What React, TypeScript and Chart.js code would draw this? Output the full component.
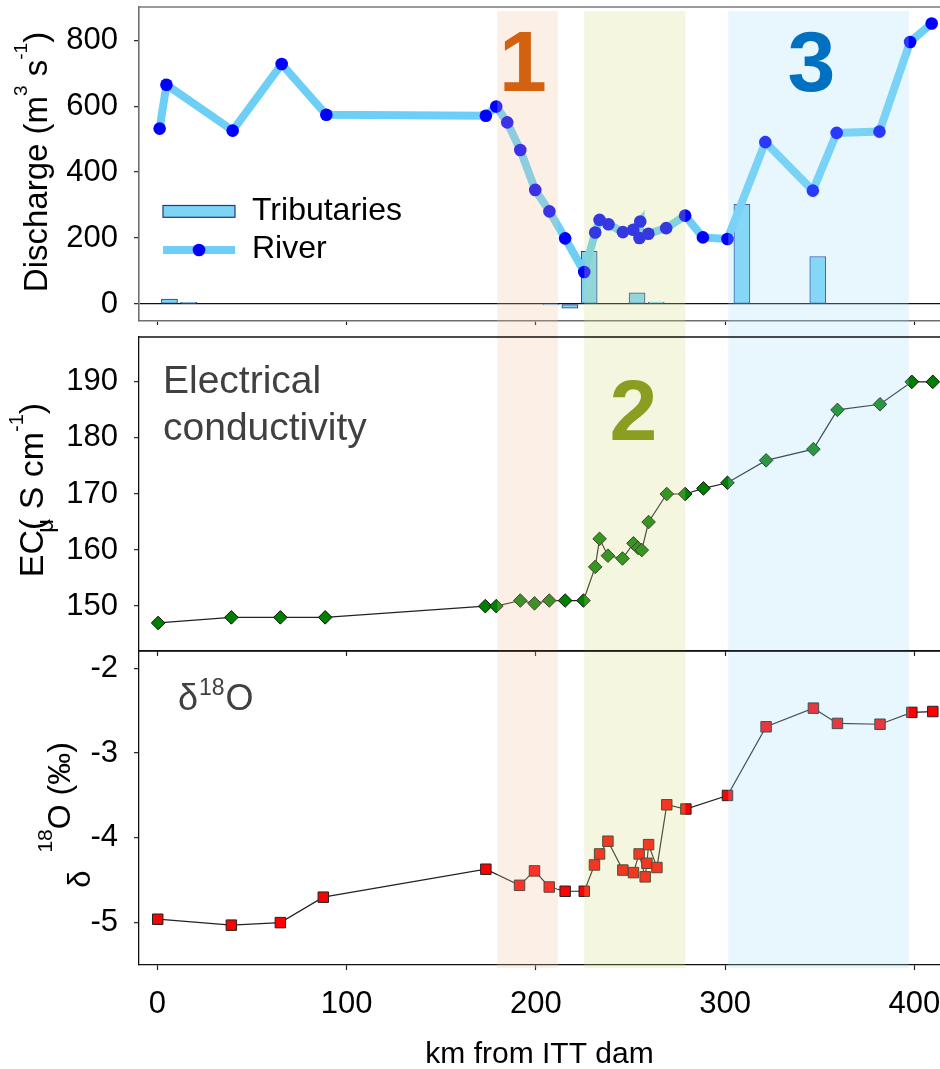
import React, { useEffect, useRef } from "react";
import { Chart, registerables } from "chart.js";

Chart.register(...registerables);

const W = 940;
const H = 1069;
const FONT = '"Liberation Sans", Arial, Helvetica, sans-serif';

// ---- River discharge (m3 s-1) along the river, km from ITT dam ----
const riverKm = [1.2, 4.8, 39.8, 65.7, 89.3, 173.6, 179.1, 184.9, 191.8, 199.7, 207.2, 215.5, 225.6, 231.4, 233.7, 238.4, 246.0, 251.5, 255.2, 254.8, 259.5, 268.9, 278.9, 288.3, 301.3, 321.3, 346.4, 359.0, 381.6, 397.8, 409.2];
const riverQ = [532, 665, 526, 728, 574, 571, 599, 551, 467, 346, 281, 199, 97, 217, 255, 242, 218, 225, 250, 200, 213, 230, 268, 202, 197, 491, 344, 519, 523, 795, 851];

// ---- Tributary inflows (m3 s-1) ----
const tribKm = [6.4, 16.5, 208.0, 218.0, 228.2, 253.5, 263.6, 308.9, 349.0];
const tribQ = [15, 5, -3, -13, 160, 34, 6, 302, 144];

// ---- Electrical conductivity (µS cm-1) ----
const ecKm = [0.4, 39.1, 65.0, 88.7, 173.3, 179.1, 191.8, 199.3, 207.1, 215.5, 225.2, 231.4, 233.7, 238.1, 245.8, 251.6, 254.0, 256.0, 259.6, 269.2, 278.9, 288.6, 301.3, 321.7, 346.7, 359.4, 381.9, 398.7, 409.8];
const ecVal = [147.0, 148.0, 148.0, 148.0, 150.0, 150.0, 151.0, 150.5, 151.0, 151.0, 151.0, 157.0, 162.0, 159.0, 158.5, 161.2, 160.4, 160.0, 165.0, 170.0, 170.0, 171.0, 172.0, 176.0, 178.0, 185.0, 186.0, 190.0, 190.0];

// ---- d18O (per mil) ----
const d18Km = [0.2, 39.1, 65.0, 87.7, 173.6, 191.4, 199.3, 207.1, 215.5, 225.6, 231.0, 233.7, 238.1, 246.0, 251.6, 254.6, 257.8, 258.7, 259.6, 264.0, 269.2, 279.3, 301.3, 321.7, 346.7, 359.4, 381.9, 398.7, 409.8];
const d18Val = [-4.96, -5.03, -5.0, -4.7, -4.37, -4.56, -4.39, -4.58, -4.63, -4.63, -4.32, -4.19, -4.04, -4.38, -4.41, -4.19, -4.46, -4.3, -4.08, -4.35, -3.61, -3.66, -3.5, -2.69, -2.47, -2.65, -2.66, -2.52, -2.51];

// ---- ticks ----
const kmTicks = [0, 100, 200, 300, 400];
const qTicks = [0, 200, 400, 600, 800];
const ecTicks = [150, 160, 170, 180, 190];
const d18Ticks = [-5, -4, -3, -2];

// ---- river reaches 1-3 ----
const zoneNames = ["1", "2", "3"];
const zoneStartKm = [179.6, 225.6, 301.7];
const zoneEndKm = [211.7, 279.0, 397.1];
const zoneLabelKm = [193.2, 251.6, 345.7];

// axis ranges
const KM_MIN = -9.7;
const KM_MAX = 413.6;
const Q_MIN = -51.7;
const Q_MAX = 901;
const EC_MIN = 142;
const EC_MAX = 198;
const D_MIN = -5.5;
const D_MAX = -1.796;

// styling
const RIVER_LINE = "#6DCFF6";
const RIVER_DOT = "#0000FF";
const TRIB_FILL = "#7DD5F6";
const TRIB_EDGE = "#25348C";
const ZONE_FILL = ["rgba(244,196,156,0.25)", "rgba(212,220,132,0.25)", "rgba(164,224,252,0.25)"];
const ZONE_TEXT = ["#D2620F", "#8C9E22", "#0071C1"];
const PLOT_LEFT = 139;
const TICK_FONT = { family: FONT, size: 31 };

type Run = { text: string; size: number; dy?: number; gap?: number };

function drawVerticalLabel(ctx: CanvasRenderingContext2D, runs: Run[], baseX: number, centerY: number) {
  ctx.save();
  ctx.fillStyle = "#000";
  ctx.textBaseline = "alphabetic";
  ctx.textAlign = "left";
  const widths = runs.map((r) => {
    ctx.font = `${r.size}px ${FONT}`;
    return ctx.measureText(r.text).width;
  });
  const total = runs.reduce((s, r, i) => s + widths[i] + (r.gap || 0), 0);
  ctx.translate(baseX, centerY);
  ctx.rotate(-Math.PI / 2);
  let pos = -total / 2;
  runs.forEach((r, i) => {
    pos += r.gap || 0;
    ctx.font = `${r.size}px ${FONT}`;
    ctx.fillText(r.text, pos, r.dy || 0);
    pos += widths[i];
  });
  ctx.restore();
}

function xAxis(height: number, tickLength: number, color: string, width: number, withLabels: boolean) {
  return {
    type: "linear",
    position: "bottom",
    min: KM_MIN,
    max: KM_MAX,
    offset: false,
    afterBuildTicks: (s: any) => {
      s.ticks = kmTicks.map((v) => ({ value: v }));
    },
    afterFit: (s: any) => {
      s.height = height;
      s.paddingLeft = 0;
      s.paddingRight = 0;
    },
    grid: { offset: false, drawOnChartArea: false, drawTicks: true, tickLength, tickColor: "#222", tickWidth: 1.2 },
    border: { display: true, color, width },
    ticks: { display: withLabels, font: TICK_FONT, color: "#000", padding: 16, maxRotation: 0, autoSkip: false },
    title: withLabels
      ? { display: true, text: "km from ITT dam", color: "#000", font: { family: FONT, size: 30, lineHeight: 0.9 }, padding: { top: 0, bottom: 1 } }
      : { display: false },
  };
}

function yAxis(min: number, max: number, ticks: number[], color: string, width: number, zeroLine: boolean) {
  return {
    type: "linear",
    position: "left",
    min,
    max,
    afterBuildTicks: (s: any) => {
      s.ticks = ticks.map((v) => ({ value: v }));
    },
    afterFit: (s: any) => {
      s.width = PLOT_LEFT;
      s.paddingTop = 0;
      s.paddingBottom = 0;
    },
    grid: {
      drawOnChartArea: zeroLine,
      color: (c: any) => (c.tick && c.tick.value === 0 ? "#111" : "rgba(0,0,0,0)"),
      lineWidth: 1.3,
      drawTicks: true,
      tickLength: 5,
      tickColor: "#222",
      tickWidth: 1.2,
    },
    border: { display: true, color, width },
    ticks: { font: TICK_FONT, color: "#000", padding: 16 },
  };
}

function zonesPlugin(yFrom: number, yTo: number, labels: { idx: number; value: number }[]) {
  return {
    id: "zones",
    afterDatasetsDraw(chart: any) {
      const { ctx } = chart;
      const x = chart.scales.x;
      const y = chart.scales.y;
      ctx.save();
      for (let i = 0; i < zoneNames.length; i++) {
        const x0 = x.getPixelForValue(zoneStartKm[i]);
        const x1 = x.getPixelForValue(zoneEndKm[i]);
        ctx.fillStyle = ZONE_FILL[i];
        ctx.fillRect(x0, yFrom, x1 - x0, yTo - yFrom);
      }
      ctx.font = `bold 86px ${FONT}`;
      ctx.textAlign = "center";
      ctx.textBaseline = "alphabetic";
      for (const l of labels) {
        ctx.fillStyle = ZONE_TEXT[l.idx];
        ctx.fillText(zoneNames[l.idx], x.getPixelForValue(zoneLabelKm[l.idx]), y.getPixelForValue(l.value));
      }
      ctx.restore();
    },
  };
}

function topLinePlugin(color: string, width: number) {
  return {
    id: "topLine",
    afterDraw(chart: any) {
      const { ctx, chartArea } = chart;
      ctx.save();
      ctx.strokeStyle = color;
      ctx.lineWidth = width;
      ctx.beginPath();
      ctx.moveTo(chartArea.left - width / 2, chartArea.top);
      ctx.lineTo(chartArea.right, chartArea.top);
      ctx.stroke();
      ctx.restore();
    },
  };
}

const baseOptions = {
  responsive: false,
  animation: false,
  devicePixelRatio: 1,
  events: [],
  plugins: { legend: { display: false }, tooltip: { enabled: false } },
};

function layout(top: number, bottom: number) {
  return { autoPadding: false, padding: { top, left: 0, right: 0, bottom } };
}

function dischargeConfig(): any {
  return {
    type: "line",
    data: {
      datasets: [
        {
          type: "line",
          label: "River",
          data: riverKm.map((k, i) => ({ x: k, y: riverQ[i] })),
          borderColor: RIVER_LINE,
          borderWidth: 8,
          pointStyle: "circle",
          pointRadius: 6.3,
          pointBackgroundColor: RIVER_DOT,
          pointBorderWidth: 0,
          tension: 0,
          order: 0,
        },
        {
          type: "bar",
          label: "Tributaries",
          data: tribKm.map((k, i) => ({ x: k, y: tribQ[i] })),
          backgroundColor: TRIB_FILL,
          borderColor: TRIB_EDGE,
          borderWidth: 1,
          borderSkipped: false,
          barThickness: 16,
          order: 1,
        },
      ],
    },
    options: {
      ...baseOptions,
      layout: layout(7, H - 321 - 4),
      scales: {
        x: xAxis(4, 4, "#6f6f6f", 1.6, false),
        y: yAxis(Q_MIN, Q_MAX, qTicks, "#6f6f6f", 1.6, true),
      },
    },
    plugins: [
      zonesPlugin(11, 337, [
        { idx: 0, value: 645 },
        { idx: 2, value: 645 },
      ]),
      topLinePlugin("#7a7a7a", 1.6),
      {
        id: "dischargeText",
        afterDraw(chart: any) {
          const { ctx, chartArea } = chart;
          const L = chartArea.left;
          const T = chartArea.top;
          ctx.save();
          // legend: tributaries
          ctx.fillStyle = TRIB_FILL;
          ctx.strokeStyle = TRIB_EDGE;
          ctx.lineWidth = 1.2;
          ctx.fillRect(L + 24, T + 198.5, 72, 11.8);
          ctx.strokeRect(L + 24, T + 198.5, 72, 11.8);
          // legend: river
          ctx.strokeStyle = RIVER_LINE;
          ctx.lineWidth = 8;
          ctx.beginPath();
          ctx.moveTo(L + 24, T + 243);
          ctx.lineTo(L + 96, T + 243);
          ctx.stroke();
          ctx.fillStyle = RIVER_DOT;
          ctx.beginPath();
          ctx.arc(L + 60, T + 243, 6.3, 0, Math.PI * 2);
          ctx.fill();
          ctx.fillStyle = "#000";
          ctx.font = `32px ${FONT}`;
          ctx.textBaseline = "middle";
          ctx.textAlign = "left";
          ctx.fillText("Tributaries", L + 113, T + 203.7);
          ctx.fillText("River", L + 113, T + 242.5);
          ctx.restore();
          drawVerticalLabel(
            ctx,
            [
              { text: "Discharge (m", size: 33 },
              { text: "3", size: 19, dy: -20 },
              { text: " s", size: 33 },
              { text: "-1", size: 19, dy: -20 },
              { text: ")", size: 33 },
            ],
            47,
            162
          );
        },
      },
    ],
  };
}

function ecConfig(): any {
  return {
    type: "line",
    data: {
      datasets: [
        {
          label: "EC",
          data: ecKm.map((k, i) => ({ x: k, y: ecVal[i] })),
          borderColor: "#222",
          borderWidth: 1.2,
          pointStyle: "rectRot",
          pointRadius: 6.8,
          pointBackgroundColor: "#008000",
          pointBorderColor: "#111",
          pointBorderWidth: 1,
          tension: 0,
        },
      ],
    },
    options: {
      ...baseOptions,
      layout: layout(337, H - 651 - 5),
      scales: {
        x: xAxis(5, 5, "#111", 1.3, false),
        y: yAxis(EC_MIN, EC_MAX, ecTicks, "#111", 1.3, false),
      },
    },
    plugins: [
      zonesPlugin(337, 651, [{ idx: 1, value: 179.7 }]),
      topLinePlugin("#111", 1.3),
      {
        id: "ecText",
        afterDraw(chart: any) {
          const { ctx, chartArea } = chart;
          ctx.save();
          ctx.fillStyle = "#404040";
          ctx.font = `39px ${FONT}`;
          ctx.textAlign = "left";
          ctx.textBaseline = "alphabetic";
          ctx.fillText("Electrical", chartArea.left + 24, chartArea.top + 56);
          ctx.fillText("conductivity", chartArea.left + 24, chartArea.top + 103);
          ctx.restore();
          drawVerticalLabel(
            ctx,
            [
              { text: "EC(", size: 34 },
              { text: "\u03bc", size: 24, dy: 10, gap: -14 },
              { text: " S cm", size: 34 },
              { text: "-1", size: 20, dy: -20 },
              { text: ")", size: 34 },
            ],
            43,
            490
          );
        },
      },
    ],
  };
}

function d18Config(): any {
  return {
    type: "line",
    data: {
      datasets: [
        {
          label: "d18O",
          data: d18Km.map((k, i) => ({ x: k, y: d18Val[i] })),
          borderColor: "#222",
          borderWidth: 1.2,
          pointStyle: "rect",
          pointRadius: 7.4,
          pointBackgroundColor: "#FF0000",
          pointBorderColor: "#222",
          pointBorderWidth: 1,
          tension: 0,
        },
      ],
    },
    options: {
      ...baseOptions,
      layout: layout(651, 0),
      scales: {
        x: xAxis(104, 5, "#111", 1.3, true),
        y: yAxis(D_MIN, D_MAX, d18Ticks, "#111", 1.3, false),
      },
    },
    plugins: [
      zonesPlugin(651, 968, []),
      topLinePlugin("#111", 1.3),
      {
        id: "d18Text",
        afterDraw(chart: any) {
          const { ctx, chartArea } = chart;
          const x0 = chartArea.left + 39;
          const base = chartArea.top + 59;
          ctx.save();
          ctx.fillStyle = "#404040";
          ctx.textAlign = "left";
          ctx.textBaseline = "alphabetic";
          ctx.font = `36px ${FONT}`;
          ctx.fillText("\u03b4", x0, base);
          let x = x0 + ctx.measureText("\u03b4").width + 1;
          ctx.font = `23px ${FONT}`;
          ctx.fillText("18", x, base - 15);
          x += ctx.measureText("18").width + 1;
          ctx.font = `36px ${FONT}`;
          ctx.fillText("O", x, base);
          ctx.restore();
          drawVerticalLabel(
            ctx,
            [
              { text: "\u03b4", size: 31, dy: 20 },
              { text: "18", size: 21, dy: -18, gap: 18 },
              { text: "O (\u2030)", size: 32 },
            ],
            70,
            815
          );
        },
      },
    ],
  };
}

export default function App() {
  const topRef = useRef<HTMLCanvasElement>(null);
  const midRef = useRef<HTMLCanvasElement>(null);
  const botRef = useRef<HTMLCanvasElement>(null);

  useEffect(() => {
    const charts = [
      new Chart(topRef.current as HTMLCanvasElement, dischargeConfig()),
      new Chart(midRef.current as HTMLCanvasElement, ecConfig()),
      new Chart(botRef.current as HTMLCanvasElement, d18Config()),
    ];
    return () => charts.forEach((c) => c.destroy());
  }, []);

  const layer: React.CSSProperties = { position: "absolute", left: 0, top: 0 };
  return (
    <div style={{ position: "fixed", left: 0, top: 0, width: W, height: H, overflow: "hidden", background: "#fff" }}>
      <canvas ref={topRef} width={W} height={H} style={layer} />
      <canvas ref={midRef} width={W} height={H} style={layer} />
      <canvas ref={botRef} width={W} height={H} style={layer} />
    </div>
  );
}
